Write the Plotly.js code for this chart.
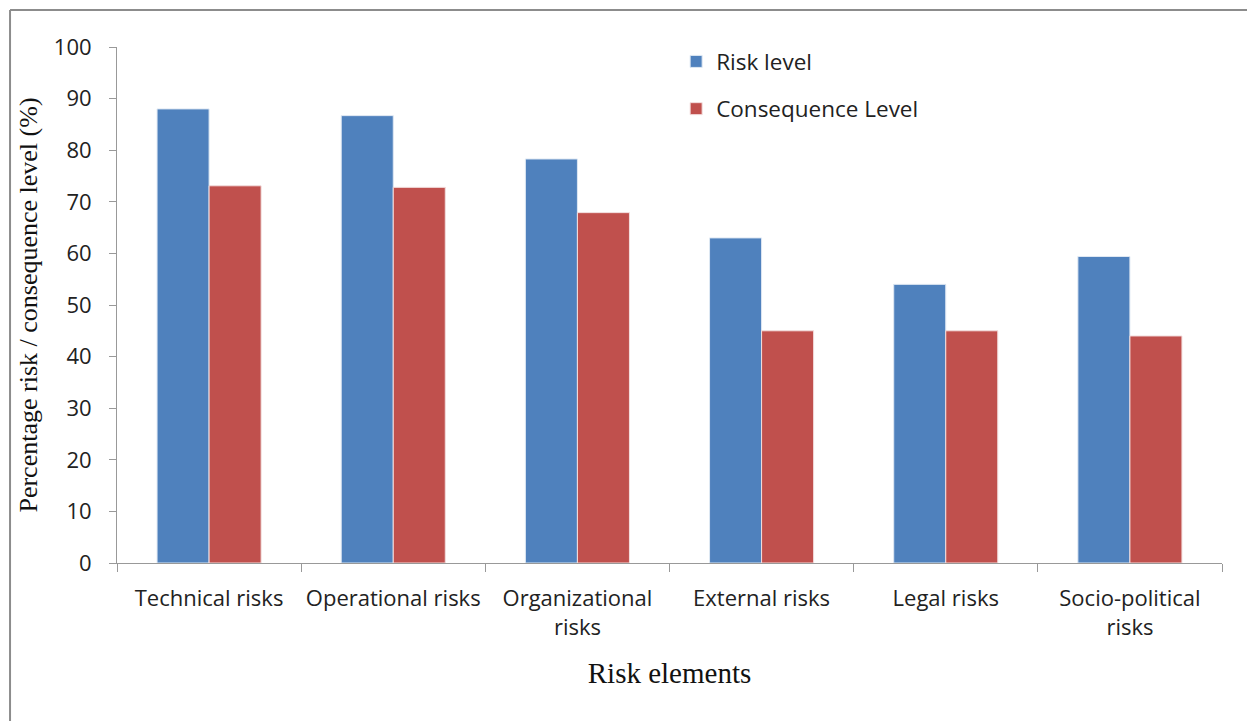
<!DOCTYPE html>
<html>
<head>
<meta charset="utf-8">
<script src="https://cdn.plot.ly/plotly-3.0.1.min.js"></script>
<style>
html,body{margin:0;padding:0;background:#fff;}
#chart{width:1247px;height:721px;}
</style>
</head>
<body>
<div id="chart"></div>
<script>
const categories = ["Technical risks", "Operational risks", "Organizational<br>risks", "External risks", "Legal risks", "Socio-political<br>risks"];
const riskLevel = [88.0, 86.7, 78.3, 63.0, 54.0, 59.4];
const consequenceLevel = [73.1, 72.8, 67.9, 45.0, 45.0, 44.0];
const yTicks = [0, 10, 20, 30, 40, 50, 60, 70, 80, 90, 100];

const traces = [
  {type: 'bar', name: 'Risk level', x: categories, y: riskLevel, legendgroup: 'a',
   marker: {color: '#4f81bd', line: {color: '#dfe8f3', width: 1}}},
  {type: 'bar', name: 'Consequence Level', x: categories, y: consequenceLevel, legendgroup: 'b',
   marker: {color: '#c0504d', line: {color: '#f3dede', width: 1}}}
];

const tickFont = {family: 'Open Sans, Liberation Sans, sans-serif', size: 22, color: '#222'};

const layout = {
  width: 1247, height: 721,
  margin: {l: 117, r: 25, t: 47, b: 158},
  paper_bgcolor: '#fff', plot_bgcolor: '#fff',
  barmode: 'group', bargap: 0.435, bargroupgap: 0,
  showlegend: true,
  legend: {x: 0.506, y: 1.013, xanchor: 'left', yanchor: 'top',
    font: {family: 'Open Sans, Liberation Sans, sans-serif', size: 22.5, color: '#222'},
    bgcolor: 'rgba(0,0,0,0)', tracegroupgap: 15, itemwidth: 30, traceorder: 'grouped'},
  xaxis: {
    type: 'category', showgrid: false, showline: true, linecolor: '#999', linewidth: 1,
    ticks: 'outside', ticklen: 8, tickcolor: '#999', tickson: 'boundaries',
    tickangle: 0, ticklabelstandoff: 16,
    tickfont: tickFont,
    title: {text: 'Risk elements', font: {family: 'Liberation Serif, serif', size: 29, color: '#111'}, standoff: 22},
    automargin: false
  },
  yaxis: {
    range: [0, 100], tickvals: yTicks, showgrid: false, zeroline: false,
    showline: true, linecolor: '#999', linewidth: 1, ticks: 'outside', ticklen: 7, tickcolor: '#999',
    ticklabelstandoff: 13,
    tickfont: tickFont,
    title: {text: 'Percentage risk / consequence level (%)', font: {family: 'Liberation Serif, serif', size: 26, color: '#111'}, standoff: 8},
    automargin: false
  },
  shapes: [
    {type: 'line', xref: 'paper', yref: 'paper', x0: -0.0968, x1: 1.03, y0: 1.0717, y1: 1.0717, line: {color: '#8c8c8c', width: 2}},
    {type: 'line', xref: 'paper', yref: 'paper', x0: -0.0968, x1: -0.0968, y0: 1.0717, y1: -0.31, line: {color: '#8c8c8c', width: 2}}
  ]
};

Plotly.newPlot('chart', traces, layout, {displayModeBar: false, staticPlot: true});
</script>
</body>
</html>
